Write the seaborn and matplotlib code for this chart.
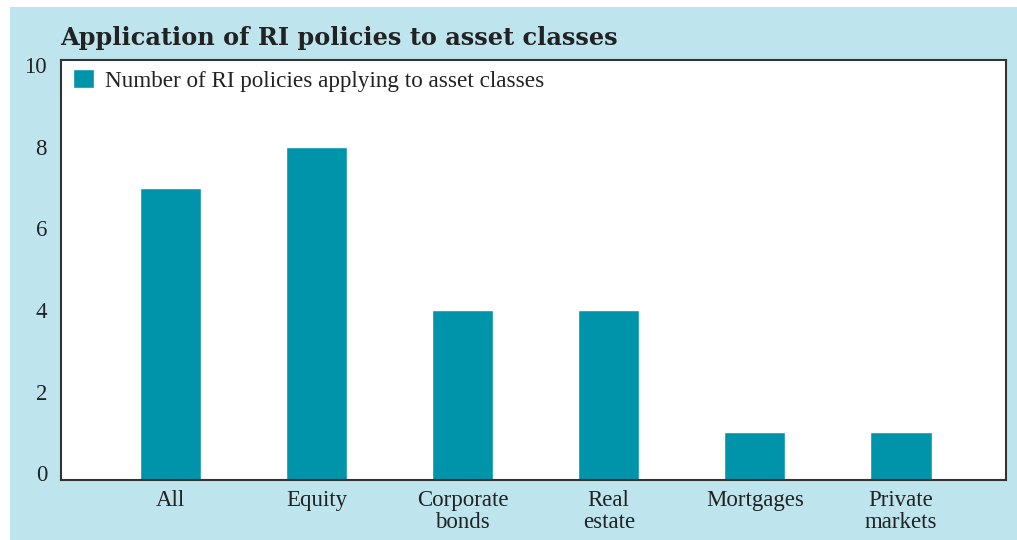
import numpy as np
import pandas as pd
import matplotlib.pyplot as plt
import seaborn as sns
from matplotlib.patches import Rectangle

# Data
categories = ['All', 'Equity', 'Corporate\nbonds', 'Real\nestate', 'Mortgages', 'Private\nmarkets']
n_policies = [7, 8, 4, 4, 1, 1]
y_ticks = [0, 2, 4, 6, 8, 10]

series_label = 'Number of RI policies applying to asset classes'
title = 'Application of RI policies to asset classes'

BG = '#bee4ee'
BAR = '#0094ab'
TXT = '#222222'

sns.set_style('white')
plt.rcParams['font.family'] = ['Liberation Serif', 'DejaVu Serif']

df = pd.DataFrame({'Asset class': categories, 'Policies': n_policies})

fig = plt.figure(figsize=(10.17, 5.4), dpi=100)
fig.patch.set_facecolor('white')
# light blue panel behind everything
fig.patches.append(Rectangle((10 / 1017, 0), 1 - 10 / 1017, 1 - 7 / 540,
                             transform=fig.transFigure, facecolor=BG,
                             edgecolor='none', zorder=-10))

ax = fig.add_axes([61 / 1017, 60 / 540, 945 / 1017, 420 / 540])
sns.barplot(data=df, x='Asset class', y='Policies', color=BAR, width=0.42,
            saturation=1, label=series_label, ax=ax)

ymin = -0.17
ax.set_ylim(ymin, 10.13)
ax.set_xlim(-0.75, 5.72)
# bars sit on the axis floor
for p in ax.patches:
    h = p.get_height()
    p.set_y(ymin)
    p.set_height(h - ymin)

ax.set_yticks(y_ticks)
ax.set_yticklabels([str(t) for t in y_ticks])
ax.set_xlabel('')
ax.set_ylabel('')
ax.tick_params(axis='both', length=0, labelsize=16.5, colors=TXT)
ax.tick_params(axis='y', pad=10)
ax.tick_params(axis='x', pad=7)
for lbl in ax.get_xticklabels():
    lbl.set_linespacing(1.05)

for s in ax.spines.values():
    s.set_visible(True)
    s.set_color('#333333')
    s.set_linewidth(1.5)

leg = ax.legend(loc='upper left', bbox_to_anchor=(12 / 945, 1 - 9 / 420),
                frameon=False, fontsize=16.7, borderpad=0, borderaxespad=0,
                handlelength=0.9, handleheight=0.9, handletextpad=0.5)
for t in leg.get_texts():
    t.set_color(TXT)

fig.text(60 / 1017, 1 - 45 / 540, title, fontsize=17.3, fontweight='bold',
         family='DejaVu Serif', color=TXT, ha='left', va='baseline')

fig.savefig('out.png', dpi=100, facecolor=fig.get_facecolor())
